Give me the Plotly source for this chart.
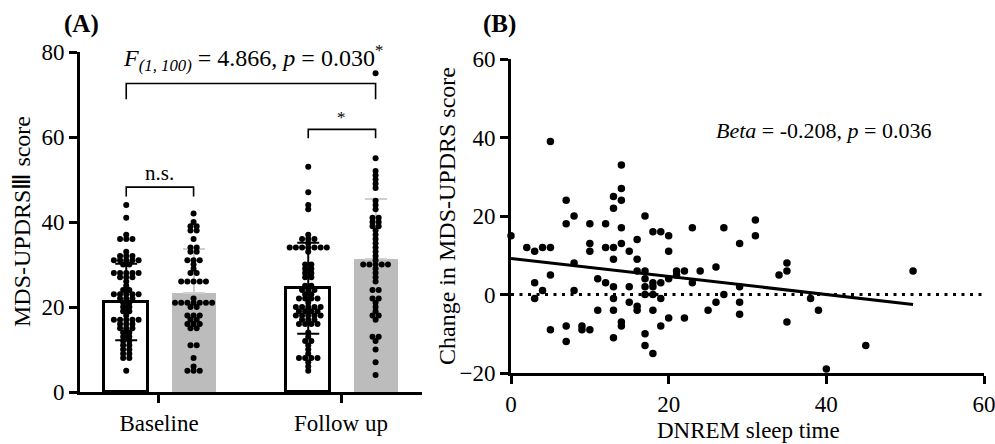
import plotly.graph_objects as go

W, H = 995, 444
FONT = "Liberation Serif"

# ---------------- Panel A data ----------------
groups = ["Baseline", "Follow up"]
bar_means_white = [21.2, 24.4]
bar_sd_white = [9.0, 10.7]
bar_means_gray = [23.4, 31.2]
bar_sd_gray = [10.2, 14.1]

baseline_white = [44, 41, 37, 36, 36, 36, 33, 32, 32, 32, 31, 31, 31, 31, 31, 30, 30,
                  28, 28, 28, 28, 28, 27, 27, 27, 26, 25, 24, 24, 23, 23, 23, 23, 23,
                  22, 22, 22, 21, 21, 20, 20, 19, 19, 18, 17, 17, 17, 17, 17, 16, 16, 16,
                  15, 15, 15, 14, 14, 13, 13, 12, 12, 11, 11, 10, 10, 9, 9, 8, 8, 5]
baseline_gray = [42, 40, 39, 39, 38, 38, 36, 34, 34, 33, 33, 31, 31, 31, 30, 29, 28, 28,
                 26, 26, 26, 26, 26, 22, 21, 21, 21, 21, 21, 21, 21, 20, 20, 18, 18, 18,
                 17, 17, 16, 16, 16, 15, 15, 11, 11, 8, 6, 5, 5, 5]
follow_white = [53, 47, 44, 43, 37, 36, 36, 36, 35, 34, 34, 34, 34, 34, 34, 34, 33, 30, 30,
                29, 29, 28, 28, 27, 27, 25, 25, 24, 24, 24, 23, 23, 22, 22, 22, 22, 21,
                20, 20, 20, 20, 20, 19, 19, 19, 19, 18, 18, 18, 18, 18, 17, 17, 17,
                16, 16, 16, 16, 14, 13, 12, 12, 11, 10, 9, 8, 8, 8, 8, 7, 6, 5]
follow_gray = [75, 55, 52, 51, 50, 49, 48, 45, 44, 43, 41, 41, 40, 40, 39, 39, 38, 37, 36,
               35, 34, 33, 32, 31, 30, 30, 30, 30, 30, 29, 28, 27, 26, 24, 24, 22, 22, 21,
               20, 19, 18, 18, 17, 13, 13, 12, 10, 7, 4]

a_yticks = [0, 20, 40, 60, 80]

# annotation levels (y in data units of panel A)
ns_bracket = (48.2, 46.0)
star_bracket = (61.8, 59.7)
big_bracket = (72.6, 68.9)

# ---------------- Panel B data ----------------
dnrem_x = [0, 2, 3, 4, 5, 5, 7, 8, 13, 14, 14, 14, 13, 17, 31,
           7, 10, 12, 10, 10, 12, 13, 14, 14, 15, 13, 16, 16, 18, 19, 20, 20, 23, 27, 29, 31,
           5, 3, 4, 3, 8, 8, 11, 12, 13, 13, 15, 16, 17, 17, 17, 17, 18, 18, 18, 19, 19, 20,
           21, 21, 22, 24, 23, 26, 27, 29, 29, 29, 34, 35, 35, 35, 38, 39, 40, 45, 51,
           5, 7, 7, 9, 9, 10, 11, 13, 13, 15, 16, 16, 14, 14, 17, 17, 18, 18, 19, 20, 22, 25, 26]
change_y = [15, 12, 11, 12, 12, 39, 24, 20, 25, 33, 27, 24, 22, 20, 19,
            18, 18, 18, 13, 11, 12, 12, 13, 17, 11, 9, 14, 9, 16, 16, 15, 11, 17, 17, 13, 15,
            5, 3, 1, -1, 8, 1, 4, 3, 2, -1, 2, 6, 6, 4, 2, 0, 3, 2, 0, 3, -1, 4,
            6, 5, 6, 6, 3, 7, 0, 2, -2, -5, 5, 8, 6, -7, -1, -4, -19, -13, 6,
            -9, -8, -12, -8, -9, -9, -4, -4, -11, -2, -3, -4, -7, -8, -10, -13, -15, -4, -8, -6, -6, -4, -2]
reg_intercept = 9.2
reg_slope = -0.23
b_xticks = [0, 20, 40, 60]
b_yticks = [-20, 0, 20, 40, 60]

# ---------------- layout helpers (window pixels -> paper fraction) ----------------
def px(x):
    return x / W

def py(y):
    return 1 - y / H

OFF_W, OFF_G = -0.18, 0.19
BAR_W = 0.242
DOT_STEP = 0.034  # horizontal spacing of dots in a row (x units)


def swarm(center, values):
    xs, ys = [], []
    counts = {}
    for v in values:
        counts[v] = counts.get(v, 0) + 1
    for v, n in counts.items():
        for i in range(n):
            xs.append(center + (i - (n - 1) / 2) * DOT_STEP)
            ys.append(v)
    return xs, ys

fig = go.Figure()

xw = [i + OFF_W for i in range(len(groups))]
xg = [i + OFF_G for i in range(len(groups))]

fig.add_trace(go.Bar(x=xw, y=bar_means_white, width=BAR_W,
                     marker=dict(color="white", line=dict(color="black", width=3)),
                     error_y=dict(type="data", array=bar_sd_white, color="black",
                                  thickness=2, width=11),
                     xaxis="x", yaxis="y", showlegend=False))
fig.add_trace(go.Bar(x=xg, y=bar_means_gray, width=BAR_W,
                     marker=dict(color="#bcbcbc", line=dict(color="#bcbcbc", width=0)),
                     error_y=dict(type="data", array=bar_sd_gray,
                                  arrayminus=[0] * len(bar_sd_gray), color="#cfcfcf",
                                  thickness=2, width=11),
                     xaxis="x", yaxis="y", showlegend=False))

for center, vals in [(xw[0], baseline_white), (xg[0], baseline_gray),
                     (xw[1], follow_white), (xg[1], follow_gray)]:
    sx, sy = swarm(center, vals)
    fig.add_trace(go.Scatter(x=sx, y=sy, mode="markers",
                             marker=dict(color="black", size=6),
                             xaxis="x", yaxis="y", showlegend=False, hoverinfo="skip",
                             cliponaxis=False))

# Panel B
fig.add_trace(go.Scatter(x=[b_xticks[0], b_xticks[-1]], y=[0, 0], mode="lines",
                         line=dict(color="black", width=3, dash="3px,5.5px"),
                         xaxis="x2", yaxis="y2", showlegend=False))
xmin, xmax = min(dnrem_x), max(dnrem_x)
fig.add_trace(go.Scatter(x=[xmin, xmax],
                         y=[reg_intercept + reg_slope * xmin, reg_intercept + reg_slope * xmax],
                         mode="lines", line=dict(color="black", width=3),
                         xaxis="x2", yaxis="y2", showlegend=False))
fig.add_trace(go.Scatter(x=dnrem_x, y=change_y, mode="markers",
                         marker=dict(color="black", size=7.5),
                         xaxis="x2", yaxis="y2", showlegend=False, cliponaxis=False))

# brackets
shapes = []
def bracket(x0, x1, ytop, yleg):
    shapes.append(dict(type="path", xref="x", yref="y",
                       path=f"M {x0},{yleg} L {x0},{ytop} L {x1},{ytop} L {x1},{yleg}",
                       line=dict(color="black", width=1.6)))

bracket(xw[0], xg[0], *ns_bracket)
bracket(xw[1], xg[1], *star_bracket)
bracket(xw[0], xg[1], *big_bracket)

axis_common = dict(showgrid=False, zeroline=False, showline=True, linecolor="black",
                   linewidth=3, ticks="outside", ticklen=8, tickwidth=3, tickcolor="black",
                   automargin=False, ticklabeloverflow="allow",
                   tickfont=dict(family=FONT, size=23, color="black"))

fig.update_layout(
    width=W, height=H, margin=dict(l=0, r=0, t=0, b=0, pad=0, autoexpand=False),
    paper_bgcolor="white", plot_bgcolor="white", bargap=0,
    shapes=shapes,
    xaxis=dict(domain=[px(80), px(422)], range=[-0.434, 1.445],
               tickvals=list(range(len(groups))), ticktext=groups, anchor="y", **axis_common),
    yaxis=dict(domain=[py(392), py(52)], range=[0, 80], tickvals=a_yticks,
               anchor="x", **axis_common),
    xaxis2=dict(domain=[px(511), px(984)], range=[0, 60], tickvals=b_xticks,
                anchor="y2", **axis_common),
    yaxis2=dict(domain=[py(373), py(59)], range=[-20, 60], tickvals=b_yticks,
                anchor="x2", **axis_common),
)

def ann(text, x, y, size=23, xref="paper", yref="paper", angle=0, **kw):
    fig.add_annotation(text=text, x=x, y=y, xref=xref, yref=yref, showarrow=False,
                       textangle=angle, font=dict(family=FONT, size=size, color="black"),
                       xanchor="center", yanchor="middle", **kw)

ann("<b>(A)</b>", px(81), py(24), size=25)
ann("<b>(B)</b>", px(499), py(24), size=25)
ann("<i>F</i><sub><i>(1, 100)</i></sub> = 4.866, <i>p</i> = 0.030<sup>*</sup>",
    px(253), py(58), size=24)
ann("n.s.", (xw[0] + xg[0]) / 2, 51.6, size=21, xref="x", yref="y")
ann("*", (xw[1] + xg[1]) / 2, 64.6, size=17, xref="x", yref="y")
ann("MDS-UPDRSⅢ score", px(22), py(222), size=24, angle=-90)
ann("Change in MDS-UPDRS score", px(447), py(216), size=24, angle=-90)
ann("DNREM sleep time", px(748), py(430))
ann("<i>Beta</i> = -0.208, <i>p</i> = 0.036", 39.7, 41.8, size=22, xref="x2", yref="y2")

# remove the browser's default body margin so the figure fills the window exactly
fig.write_html("out.html", config={"displayModeBar": False},
               post_script="document.body.style.margin='0';document.body.style.overflow='hidden';")
